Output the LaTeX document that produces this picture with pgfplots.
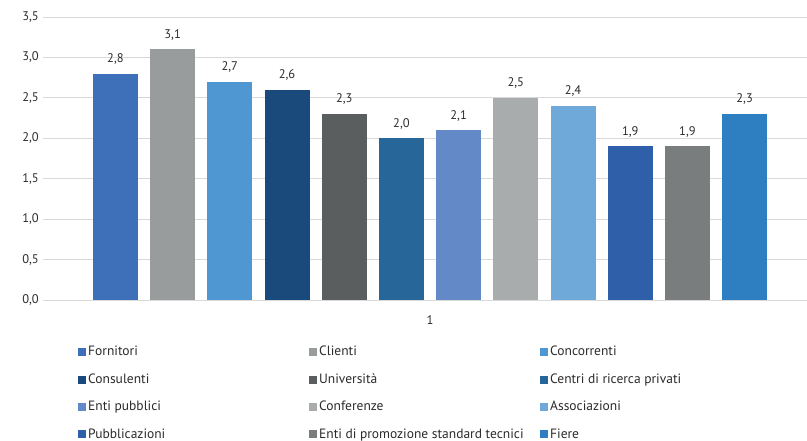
\documentclass[border=0pt]{standalone}
\usepackage{fontspec}
\setmainfont{PT Sans}
\usepackage{pgfplots}
\pgfplotsset{compat=1.18}
\definecolor{c1}{HTML}{3E70BA}
\definecolor{c2}{HTML}{999C9D}
\definecolor{c3}{HTML}{4F97D3}
\definecolor{c4}{HTML}{1A4A7C}
\definecolor{c5}{HTML}{5A5E5F}
\definecolor{c6}{HTML}{266698}
\definecolor{c7}{HTML}{638AC6}
\definecolor{c8}{HTML}{A9ACAD}
\definecolor{c9}{HTML}{6EA9DA}
\definecolor{c10}{HTML}{2F5FA8}
\definecolor{c11}{HTML}{7A7D7E}
\definecolor{c12}{HTML}{2E7EC2}
\definecolor{gridgray}{HTML}{D9D9D9}
\definecolor{txt}{HTML}{2B2B2B}
\begin{document}
\fontsize{12}{14}\selectfont
\begin{tikzpicture}
\useasboundingbox (-43pt,-140pt) rectangle (764pt,300pt);
\begin{axis}[
 scale only axis, width=764pt, height=283pt,
 at={(0,0)}, anchor=south west,
 ybar=12.2pt, bar width=45pt,
 xmin=0.5, xmax=1.487, ymin=0, ymax=3.5,
 xtick={1}, ytick={0,0.5,...,3.5},
 ymajorgrids, grid style={draw=gridgray, line width=0.8pt},
 axis line style={draw=none}, tick style={draw=none},
 ticklabel style={font=\fontsize{12.5}{14}\selectfont, text=txt},
 /pgf/number format/assume math mode=true,
 yticklabel style={/pgf/number format/.cd, use comma, fixed, fixed zerofill, precision=1, assume math mode=true},
 xticklabel style={yshift=-7pt},
 nodes near coords={\pgfmathprintnumber[use comma,fixed,fixed zerofill,precision=1,assume math mode=true]{\pgfplotspointmeta}},
 every node near coord/.append style={text=txt, font=\fontsize{12.5}{14}\selectfont, yshift=5pt},
 legend columns=3,
 legend style={at={(0.0458,-0.156)}, anchor=north west, draw=none, fill=none, inner sep=0pt,
   font=\fontsize{13.5}{15}\selectfont, text=txt, row sep=12pt,
   /tikz/every even column/.append style={column sep=0pt}},
 legend image code/.code={\fill[#1,draw=none] (0pt,-4pt) rectangle (8pt,4pt);},
 legend cell align=left,
]
\addplot[fill=c1, draw=none] coordinates {(1,2.8)};
\addlegendentry{\makebox[219pt][l]{Fornitori}}
\addplot[fill=c2, draw=none] coordinates {(1,3.1)};
\addlegendentry{\makebox[219pt][l]{Clienti}}
\addplot[fill=c3, draw=none] coordinates {(1,2.7)};
\addlegendentry{Concorrenti}
\addplot[fill=c4, draw=none] coordinates {(1,2.6)};
\addlegendentry{Consulenti}
\addplot[fill=c5, draw=none] coordinates {(1,2.3)};
\addlegendentry{Università}
\addplot[fill=c6, draw=none] coordinates {(1,2.0)};
\addlegendentry{Centri di ricerca privati}
\addplot[fill=c7, draw=none] coordinates {(1,2.1)};
\addlegendentry{Enti pubblici}
\addplot[fill=c8, draw=none] coordinates {(1,2.5)};
\addlegendentry{Conferenze}
\addplot[fill=c9, draw=none] coordinates {(1,2.4)};
\addlegendentry{Associazioni}
\addplot[fill=c10, draw=none] coordinates {(1,1.9)};
\addlegendentry{Pubblicazioni}
\addplot[fill=c11, draw=none] coordinates {(1,1.9)};
\addlegendentry{Enti di promozione standard tecnici}
\addplot[fill=c12, draw=none] coordinates {(1,2.3)};
\addlegendentry{Fiere}
\end{axis}
\end{tikzpicture}
\end{document}
